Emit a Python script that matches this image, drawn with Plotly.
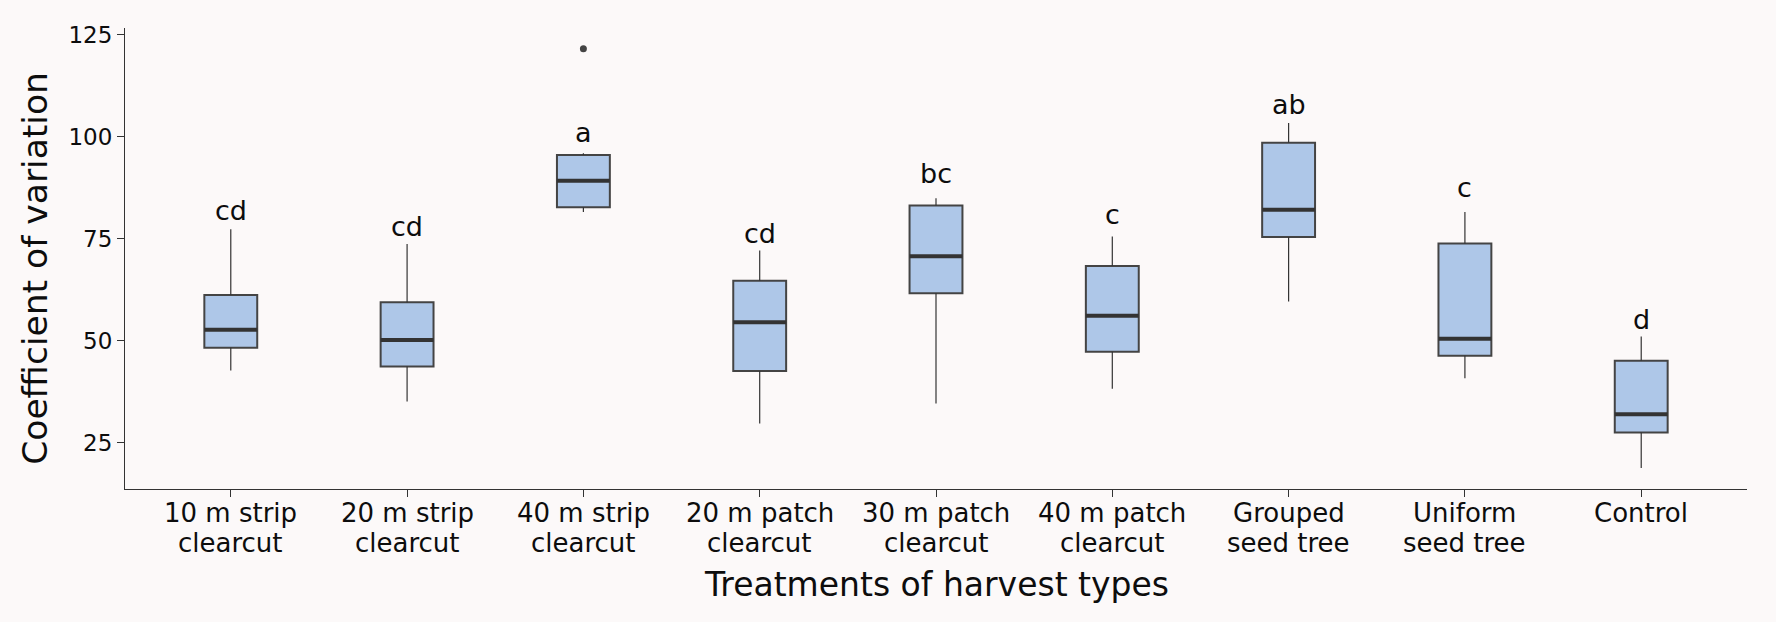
import plotly.graph_objects as go

# ---------------- data ----------------
categories = ["10 m strip<br>clearcut", "20 m strip<br>clearcut", "40 m strip<br>clearcut",
              "20 m patch<br>clearcut", "30 m patch<br>clearcut", "40 m patch<br>clearcut",
              "Grouped<br>seed tree", "Uniform<br>seed tree", "Control"]
whisker_low = [42.7, 35.1, 81.5, 29.7, 34.6, 38.2, 59.6, 40.8, 18.8]
q1 = [48.3, 43.7, 82.7, 42.6, 61.6, 47.3, 75.4, 46.3, 27.5]
median = [52.7, 50.2, 89.2, 54.5, 70.7, 56.1, 82.1, 50.5, 32.0]
q3 = [61.2, 59.4, 95.5, 64.7, 83.1, 68.3, 98.5, 73.8, 45.1]
whisker_high = [77.3, 73.7, 95.9, 72.1, 84.9, 75.5, 103.3, 81.5, 51.0]
outlier_group = [3]
outlier_value = [121.5]
letters = ["cd", "cd", "a", "cd", "bc", "c", "ab", "c", "d"]
letter_y = [81.9, 78.0, 101.0, 76.3, 90.9, 80.9, 107.8, 87.5, 55.3]
y_ticks = [25, 50, 75, 100, 125]

# ---------------- style ----------------
FONT = "DejaVu Sans"
BG = "#FCF9F9"
FILL = "#AEC7E8"
EDGE = "#444444"
DARK = "#333333"
TXT = "#0d0d0d"
BOX_W = 0.3

positions = list(range(1, len(categories) + 1))

fig = go.Figure()

# whiskers
for i, p in enumerate(positions):
    fig.add_trace(go.Scatter(
        x=[p, p, None, p, p],
        y=[whisker_low[i], q1[i], None, q3[i], whisker_high[i]],
        mode="lines", line=dict(color=DARK, width=1.2),
        hoverinfo="skip", showlegend=False))

# boxes
for i, p in enumerate(positions):
    fig.add_trace(go.Box(
        x=[p], q1=[q1[i]], median=[median[i]], q3=[q3[i]],
        lowerfence=[q1[i]], upperfence=[q3[i]],
        width=BOX_W, whiskerwidth=0, boxpoints=False,
        fillcolor=FILL, line=dict(color=EDGE, width=2),
        showlegend=False))

# medians (thicker)
for i, p in enumerate(positions):
    fig.add_trace(go.Scatter(
        x=[p - BOX_W / 2, p + BOX_W / 2], y=[median[i], median[i]],
        mode="lines", line=dict(color=DARK, width=4),
        hoverinfo="skip", showlegend=False))

# outliers
fig.add_trace(go.Scatter(
    x=outlier_group, y=outlier_value, mode="markers",
    marker=dict(color="#444444", size=7), showlegend=False))

# letters
for p, t, ly in zip(positions, letters, letter_y):
    fig.add_annotation(x=p, y=ly, text=t, showarrow=False, xanchor="center",
                       yanchor="middle", font=dict(family=FONT, size=27, color=TXT))

# category tick labels (two lines, tight line spacing)
line_y = [-0.0522, -0.1174]
for p, cat in zip(positions, categories):
    for k, part in enumerate(cat.split("<br>")):
        fig.add_annotation(x=p, xref="x", yref="paper", y=line_y[k], text=part,
                           showarrow=False, xanchor="center", yanchor="middle",
                           font=dict(family=FONT, size=26, color=TXT))

# axis titles
fig.add_annotation(xref="paper", yref="paper", x=0.5, y=-0.207, text="Treatments of harvest types",
                   showarrow=False, xanchor="center", yanchor="middle",
                   font=dict(family=FONT, size=33, color=TXT))
fig.add_annotation(xref="paper", yref="paper", x=-0.056, y=0.478, text="Coefficient of variation",
                   showarrow=False, xanchor="center", yanchor="middle", textangle=-90,
                   font=dict(family=FONT, size=34.5, color=TXT))

fig.update_layout(
    width=1776, height=622,
    margin=dict(l=125, r=29, t=28, b=133, autoexpand=False),
    paper_bgcolor=BG, plot_bgcolor=BG,
    font=dict(family=FONT, color=TXT),
    showlegend=False,
)
fig.update_xaxes(
    range=[0.4, 9.6], tickmode="array", tickvals=positions, showticklabels=False,
    showline=True, linecolor=DARK, linewidth=1.2, ticks="outside", ticklen=7,
    tickcolor=DARK, tickwidth=1.2, showgrid=False, zeroline=False, automargin=False)
fig.update_yaxes(
    range=[13.67, 126.6], tickmode="array", tickvals=y_ticks,
    showline=True, linecolor=DARK, linewidth=1.2, ticks="outside", ticklen=7,
    tickcolor=DARK, tickwidth=1.2, showgrid=False, zeroline=False,
    tickfont=dict(family=FONT, size=23, color=TXT), automargin=False)

fig.write_html("out.html")
